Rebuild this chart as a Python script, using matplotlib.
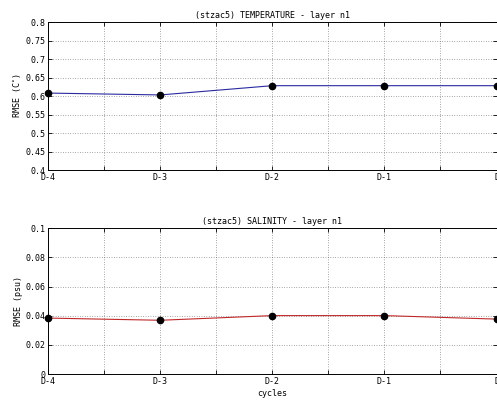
import matplotlib
matplotlib.use("Agg")
import matplotlib.pyplot as plt
import numpy as np

# data
cycles = ["D-4", "D-3", "D-2", "D-1", "D"]
temp_rmse = [0.608, 0.603, 0.628, 0.628, 0.628]
sal_rmse = [0.0384, 0.0369, 0.0401, 0.0401, 0.0377]

plt.rcParams['font.family'] = 'DejaVu Sans Mono'
plt.rcParams['font.size'] = 6

fig = plt.figure(figsize=(4.97, 4.01), dpi=100)
ax1 = fig.add_axes([0.097, 0.576, 0.902, 0.369])
ax2 = fig.add_axes([0.097, 0.067, 0.902, 0.364])

x = np.arange(len(cycles))
xt = np.arange(0, len(cycles) - 0.5, 0.5)
xl = [cycles[int(v)] if v == int(v) else "" for v in xt]


def style(ax):
    ax.set_xlim(0, len(cycles) - 1)
    ax.set_xticks(xt)
    ax.set_xticklabels(xl)
    ax.tick_params(direction='in', top=True, right=True, length=3, width=0.6, pad=2)
    ax.grid(True, linestyle=(0, (1, 2.5)), color='#555555', linewidth=0.5)
    for s in ax.spines.values():
        s.set_linewidth(0.7)


ax1.plot(x, temp_rmse, color='#2a2aa0', linewidth=0.8)
ax1.plot(x, temp_rmse, 'o', color='black', markersize=4.5, clip_on=False)
ax1.set_ylim(0.4, 0.8)
ax1.set_yticks(np.arange(0.4, 0.801, 0.05))
ax1.set_yticklabels(["0.4", "0.45", "0.5", "0.55", "0.6", "0.65", "0.7", "0.75", "0.8"])
ax1.set_ylabel("RMSE (C$^{\\circ}$)", labelpad=2)
ax1.set_title("(stzac5) TEMPERATURE - layer n1", fontsize=6, pad=3)
style(ax1)

ax2.plot(x, sal_rmse, color='#c02828', linewidth=0.8)
ax2.plot(x, sal_rmse, 'o', color='black', markersize=4.5, clip_on=False)
ax2.set_ylim(0, 0.1)
ax2.set_yticks(np.arange(0, 0.101, 0.02))
ax2.set_yticklabels(["0", "0.02", "0.04", "0.06", "0.08", "0.1"])
ax2.set_ylabel("RMSE (psu)", labelpad=2)
ax2.set_xlabel("cycles", labelpad=2)
ax2.set_title("(stzac5) SALINITY - layer n1", fontsize=6, pad=3)
style(ax2)

fig.savefig("out.png", dpi=100)
